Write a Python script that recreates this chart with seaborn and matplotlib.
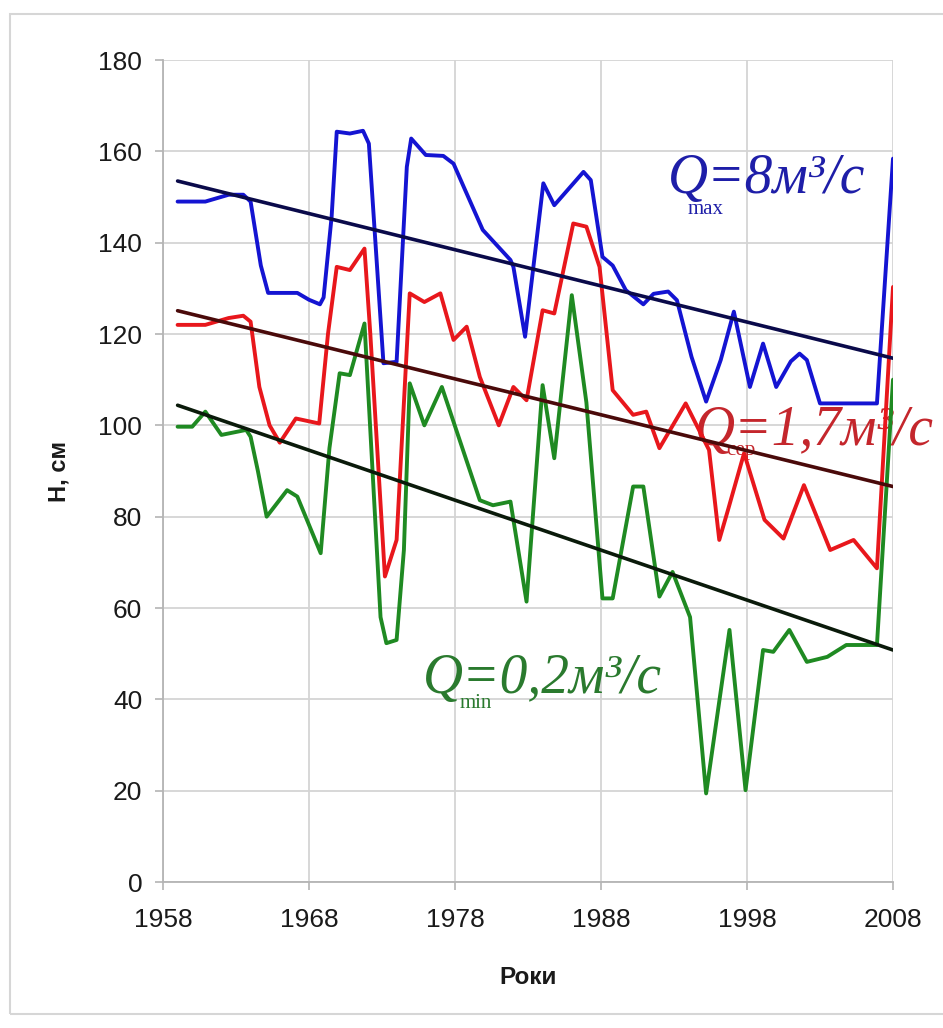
import numpy as np
import pandas as pd
import seaborn as sns
from matplotlib import pyplot as plt
from matplotlib.patches import Rectangle

"""Дані, зчитані з графіка"""
years_max = [1959, 1960.9, 1962.5, 1963.5, 1964.0, 1964.7, 1965.2, 1967.2, 1968.0, 1968.75,
             1969.0, 1969.55, 1969.9, 1970.8, 1971.7, 1972.1, 1973.1, 1974.0, 1974.7, 1975.0,
             1976.0, 1977.2, 1977.9, 1978.6, 1979.9, 1981.8, 1982.0, 1982.8, 1984.05, 1984.8,
             1986.8, 1987.3, 1988.1, 1988.8, 1989.7, 1990.9, 1991.6, 1992.6, 1993.2, 1994.2,
             1995.2, 1996.2, 1997.1, 1998.2, 1999.1, 2000.0, 2001.0, 2001.6, 2002.1, 2003.0,
             2006.9, 2008.0]
h_max = [149, 149, 150.5, 150.5, 149, 135, 129, 129, 127.5, 126.5,
         128, 145.7, 164.3, 163.9, 164.5, 161.7, 113.6, 113.9, 156.6, 162.8,
         159.2, 159, 157.3, 152.2, 142.8, 136.2, 134.7, 119.4, 153, 148.2,
         155.5, 153.7, 136.9, 135, 129.6, 126.5, 128.8, 129.3, 127.4, 115,
         105.2, 114.3, 124.9, 108.4, 117.9, 108.4, 114, 115.7, 114.3, 104.8,
         104.8, 158.4]

years_mid = [1959, 1960.9, 1962.5, 1963.5, 1964.0, 1964.6, 1965.3, 1966.0, 1967.1, 1968.7,
             1969.3, 1969.9, 1970.8, 1971.8, 1972.2, 1973.2, 1974.0, 1974.9, 1975.9, 1977.0,
             1977.9, 1978.8, 1979.7, 1981.0, 1982.0, 1982.9, 1984.0, 1984.8, 1986.1, 1987.0,
             1987.9, 1988.8, 1990.2, 1991.1, 1992.0, 1993.8, 1995.4, 1996.1, 1996.7, 1997.8,
             1999.2, 2000.5, 2001.9, 2003.7, 2005.3, 2006.9, 2008.0]
h_mid = [122, 122, 123.5, 124, 122.7, 108.4, 100, 96.2, 101.5, 100.4,
         120, 134.7, 134, 138.7, 120, 66.9, 74.9, 128.9, 127, 128.9,
         118.7, 121.6, 110.6, 100, 108.4, 105.5, 125.2, 124.5, 144.2, 143.5,
         134.7, 107.7, 102.3, 103, 95, 104.8, 94.6, 74.9, 81.5, 93.9,
         79.3, 75.2, 86.9, 72.7, 74.9, 68.7, 130.3]

years_min = [1959, 1960.0, 1960.9, 1962.0, 1963.7, 1964.0, 1964.5, 1965.1, 1966.5, 1967.2,
             1968.8, 1969.4, 1970.1, 1970.8, 1971.8, 1972.9, 1973.3, 1974.0, 1974.5, 1974.9,
             1975.9, 1977.1, 1979.7, 1980.6, 1981.8, 1982.9, 1984.0, 1984.8, 1986.0, 1987.0,
             1988.1, 1988.8, 1990.2, 1990.9, 1992.0, 1992.9, 1994.1, 1995.2, 1996.8, 1997.9,
             1999.1, 1999.8, 2000.9, 2002.1, 2003.5, 2004.8, 2006.9, 2008.0]
h_min = [99.7, 99.7, 103, 97.9, 99, 97.5, 90, 80, 85.8, 84.4,
         72, 95, 111.4, 111, 122.3, 58, 52.3, 53, 72.7, 109.2,
         100, 108.4, 83.6, 82.5, 83.3, 61.4, 108.8, 92.8, 128.5, 105,
         62.1, 62.1, 86.6, 86.6, 62.5, 67.9, 58, 19.4, 55.2, 20.1,
         50.8, 50.4, 55.2, 48.2, 49.3, 51.9, 51.9, 110]

"""Лінії тренду (початок і кінець)"""
trend_years = [1959, 2008]
trend_max = [153.5, 114.7]
trend_mid = [125.1, 86.6]
trend_min = [104.4, 50.8]

x_ticks = [1958, 1968, 1978, 1988, 1998, 2008]
y_ticks = [0, 20, 40, 60, 80, 100, 120, 140, 160, 180]

sns.set_theme(style='whitegrid')
plt.rcParams['font.family'] = ['Liberation Sans', 'DejaVu Sans']

fig = plt.figure(figsize=(9.43, 10.28), dpi=100)
ax = fig.add_axes([0.17285, 0.14202, 0.77413, 0.79961])

fig.patches.append(Rectangle((10 / 943, 14 / 1028), 1.0, 1000 / 1028,
                             transform=fig.transFigure, fill=False,
                             edgecolor='#d6d6d6', linewidth=1.5, zorder=0))

"""Криві рівнів"""
line_kw = dict(linewidth=2.8, solid_joinstyle='round', solid_capstyle='round', ax=ax, zorder=3)
sns.lineplot(x=years_max, y=h_max, sort=False, color='#1414d2', **line_kw)
sns.lineplot(x=years_mid, y=h_mid, sort=False, color='#e8171c', **line_kw)
sns.lineplot(x=years_min, y=h_min, sort=False, color='#1f8a22', **line_kw)

trend_kw = dict(linewidth=2.6, ax=ax, zorder=4)
sns.lineplot(x=trend_years, y=trend_max, color='#0a0a4a', **trend_kw)
sns.lineplot(x=trend_years, y=trend_mid, color='#4a0a0a', **trend_kw)
sns.lineplot(x=trend_years, y=trend_min, color='#0a1a0a', **trend_kw)

"""Підписи витрат"""
serif = ['Liberation Serif', 'DejaVu Serif']
big = 40
small = 15
ax.text(1992.6, 150.9, 'Q=8м³/с', color='#1e1ea8', fontsize=big, style='italic',
        family=serif, va='baseline', zorder=2)
ax.text(1993.9, 146.3, 'max', color='#1e1ea8', fontsize=small, family=serif,
        va='baseline', zorder=2)
ax.text(1994.4, 95.7, 'Q=1,7м³/с', color='#c4262c', fontsize=big, style='italic',
        family=serif, va='baseline', zorder=2)
ax.text(1996.6, 93.6, 'сер', color='#c4262c', fontsize=small, family=serif,
        va='baseline', zorder=2)
ax.text(1975.8, 41.4, 'Q=0,2м³/с', color='#2a7a2e', fontsize=big, style='italic',
        family=serif, va='baseline', zorder=2)
ax.text(1978.3, 38.1, 'min', color='#2a7a2e', fontsize=small, family=serif,
        va='baseline', zorder=2)

"""Осі"""
ax.set_xlim(1958, 2008)
ax.set_ylim(0, 180)
ax.set_xticks(x_ticks)
ax.set_yticks(y_ticks)
ax.grid(True, color='#d4d4d4', linewidth=1.3)
ax.set_facecolor('white')
for side in ['top', 'right']:
    ax.spines[side].set_visible(False)
for side in ['left', 'bottom']:
    ax.spines[side].set_color('#b4b4b4')
    ax.spines[side].set_linewidth(1.3)
ax.tick_params(axis='both', which='major', length=6, width=1.2, color='#b4b4b4',
               labelsize=19, labelcolor='#1a1a1a', direction='out')
ax.tick_params(axis='x', pad=13)
ax.tick_params(axis='y', pad=9)
ax.tick_params(left=True, bottom=True)

ax.set_xlabel('Роки', fontsize=17.5, fontweight='bold', labelpad=24, color='#1a1a1a')
ax.set_ylabel('Н, см', fontsize=17, fontweight='bold', labelpad=20, color='#1a1a1a')

fig.savefig('out.png', dpi=100, facecolor='white')
